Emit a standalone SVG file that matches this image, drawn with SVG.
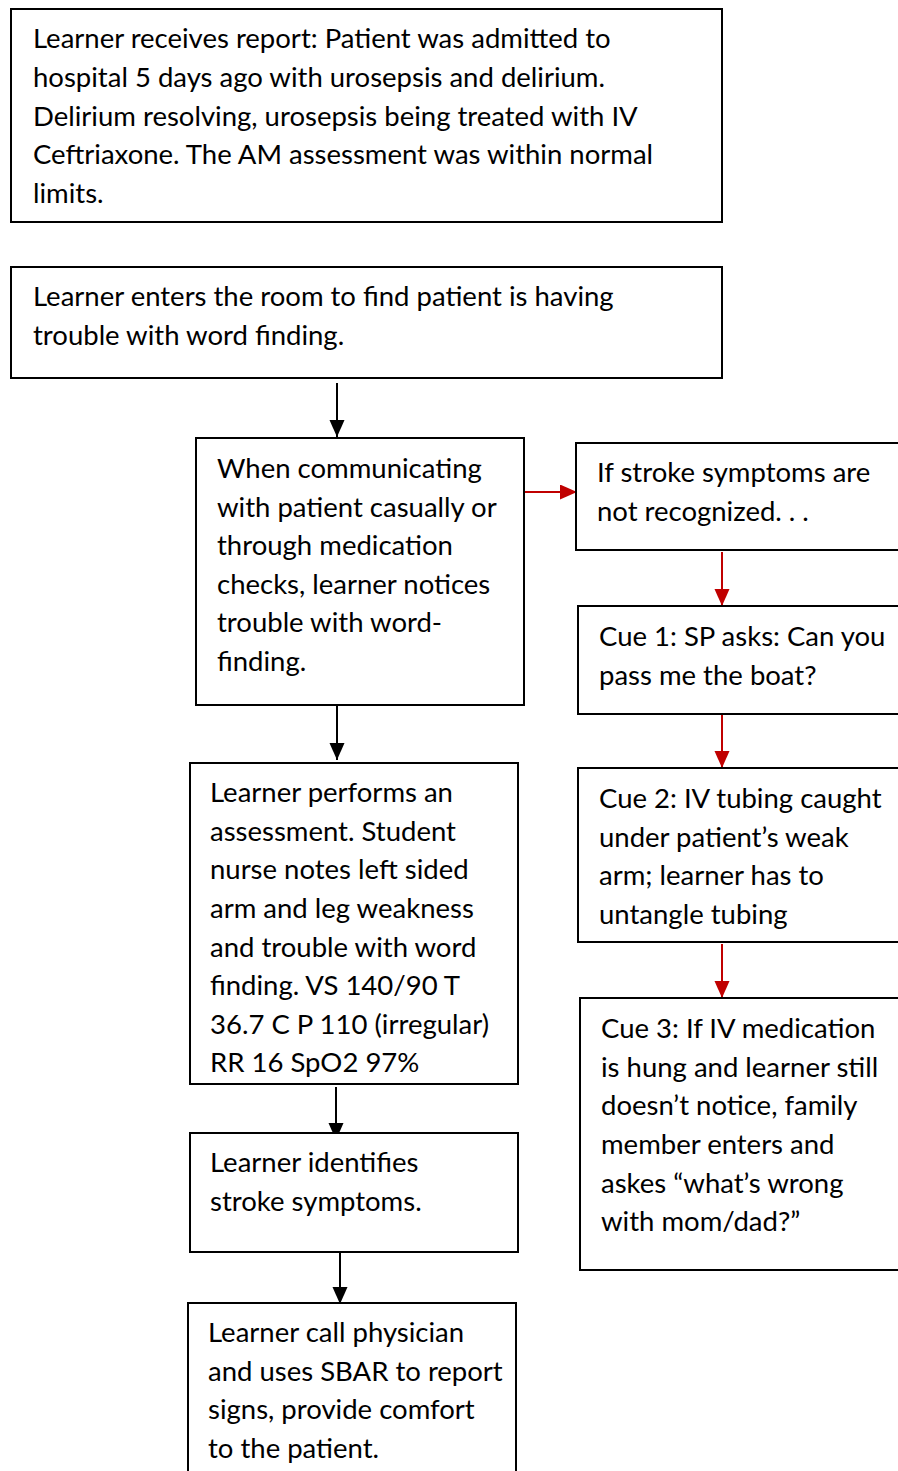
<svg xmlns="http://www.w3.org/2000/svg" width="898" height="1471" viewBox="0 0 898 1471">
<style>
.box{fill:#fff;stroke:#000;stroke-width:2}
text{font-family:Lato,"Open Sans",sans-serif;font-size:27.5px;fill:#000}
.blk{stroke:#000;stroke-width:2;fill:none}
.red{stroke:#C00000;stroke-width:2;fill:none}
</style>
<defs>
<marker id="ab" markerUnits="userSpaceOnUse" markerWidth="18" markerHeight="16" refX="17" refY="7.5" orient="auto"><path d="M0,0 L17,7.5 L0,15 Z" fill="#000"/></marker>
<marker id="ar" markerUnits="userSpaceOnUse" markerWidth="18" markerHeight="16" refX="17" refY="7.5" orient="auto"><path d="M0,0 L17,7.5 L0,15 Z" fill="#C00000"/></marker>
</defs>
<g id="connectors">
<line class="blk" x1="337" y1="383" x2="337" y2="437" marker-end="url(#ab)"/>
<line class="red" x1="524" y1="492" x2="577" y2="492" marker-end="url(#ar)"/>
<line class="red" x1="722" y1="552" x2="722" y2="606" marker-end="url(#ar)"/>
<line class="red" x1="722" y1="714" x2="722" y2="768" marker-end="url(#ar)"/>
<line class="red" x1="722" y1="944" x2="722" y2="998" marker-end="url(#ar)"/>
<line class="blk" x1="337" y1="705" x2="337" y2="760" marker-end="url(#ab)"/>
<line class="blk" x1="336" y1="1087" x2="336" y2="1140" marker-end="url(#ab)"/>
<line class="blk" x1="340" y1="1251" x2="340" y2="1304" marker-end="url(#ab)"/>
</g>
<g id="n1"><rect class="box" x="11" y="9" width="711" height="213"/>
<text x="33" y="48">Learner receives report: Patient was admitted to</text>
<text x="33" y="87">hospital 5 days ago with urosepsis and delirium.</text>
<text x="33" y="126">Delirium resolving, urosepsis being treated with IV</text>
<text x="33" y="164">Ceftriaxone. The AM assessment was within normal</text>
<text x="33" y="203">limits.</text></g>
<g id="n2"><rect class="box" x="11" y="267" width="711" height="111"/>
<text x="33" y="306">Learner enters the room to find patient is having</text>
<text x="33" y="345">trouble with word finding.</text></g>
<g id="n3"><rect class="box" x="196" y="438" width="328" height="267"/>
<text x="217" y="478">When communicating</text>
<text x="217" y="517">with patient casually or</text>
<text x="217" y="555">through medication</text>
<text x="217" y="594">checks, learner notices</text>
<text x="217" y="632">trouble with word-</text>
<text x="217" y="671">finding.</text></g>
<g id="n4"><rect class="box" x="576" y="443" width="330" height="107"/>
<text x="597" y="482">If stroke symptoms are</text>
<text x="597" y="521">not recognized. . .</text></g>
<g id="n5"><rect class="box" x="578" y="606" width="330" height="108"/>
<text x="599" y="646">Cue 1: SP asks: Can you</text>
<text x="599" y="685">pass me the boat?</text></g>
<g id="n6"><rect class="box" x="578" y="768" width="330" height="174"/>
<text x="599" y="808">Cue 2: IV tubing caught</text>
<text x="599" y="847">under patient’s weak</text>
<text x="599" y="885">arm; learner has to</text>
<text x="599" y="924">untangle tubing</text></g>
<g id="n7"><rect class="box" x="580" y="998" width="330" height="272"/>
<text x="601" y="1038">Cue 3: If IV medication</text>
<text x="601" y="1077">is hung and learner still</text>
<text x="601" y="1115">doesn’t notice, family</text>
<text x="601" y="1154">member enters and</text>
<text x="601" y="1193">askes “what’s wrong</text>
<text x="601" y="1231">with mom/dad?”</text></g>
<g id="n8"><rect class="box" x="190" y="763" width="328" height="321"/>
<text x="210" y="802">Learner performs an</text>
<text x="210" y="841">assessment. Student</text>
<text x="210" y="879">nurse notes left sided</text>
<text x="210" y="918">arm and leg weakness</text>
<text x="210" y="957">and trouble with word</text>
<text x="210" y="995">finding. VS 140/90 T</text>
<text x="210" y="1034">36.7 C P 110 (irregular)</text>
<text x="210" y="1072">RR 16 SpO2 97%</text></g>
<g id="n9"><rect class="box" x="190" y="1133" width="328" height="119"/>
<text x="210" y="1172">Learner identifies</text>
<text x="210" y="1211">stroke symptoms.</text></g>
<g id="n10"><rect class="box" x="188" y="1303" width="328" height="180"/>
<text x="208" y="1342">Learner call physician</text>
<text x="208" y="1381">and uses SBAR to report</text>
<text x="208" y="1419">signs, provide comfort</text>
<text x="208" y="1458">to the patient.</text></g>
</svg>
